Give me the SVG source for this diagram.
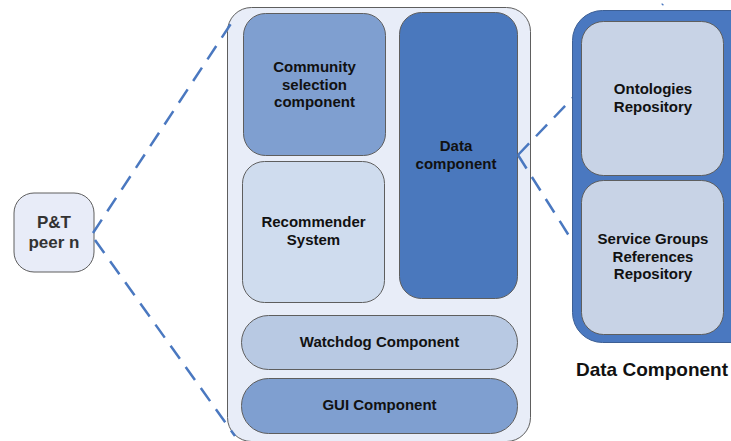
<svg xmlns="http://www.w3.org/2000/svg" width="731" height="441" viewBox="0 0 731 441">
<style>
text{font-family:"Liberation Sans",Arial,sans-serif;font-weight:bold;fill:#111;text-anchor:middle}
.n{stroke:#5e5e5e;stroke-width:1}
.t15{font-size:15px}
.conn{fill:none;stroke:#4a78c0;stroke-width:2.5;stroke-dasharray:16 10}
</style>
<rect width="731" height="441" fill="#ffffff"/>
<g id="peer">
<rect class="n" x="14" y="193" width="80" height="79" rx="20" fill="#e8ecf8"/>
<text x="54" y="228" style="font-size:17px;fill:#333">P&amp;T</text>
<text x="54" y="248" style="font-size:17px;fill:#333">peer n</text>
</g>
<g id="container">
<rect class="n" x="227.5" y="7.5" width="303" height="434" rx="24" fill="#e8edf8"/>
</g>
<g id="community">
<rect class="n" x="243.5" y="13.5" width="142" height="142" rx="22" fill="#7f9fd0"/>
<text class="t15" x="314.5" y="72">Community</text>
<text class="t15" x="314.5" y="90">selection</text>
<text class="t15" x="314.5" y="107">component</text>
</g>
<g id="data">
<rect class="n" x="399.5" y="12.5" width="118" height="286" rx="22" fill="#4a78bd"/>
<text class="t15" x="456" y="151">Data</text>
<text class="t15" x="456" y="169">component</text>
</g>
<g id="recommender">
<rect class="n" x="242.5" y="161.5" width="142" height="141" rx="22" fill="#cfdcee"/>
<text class="t15" x="313.5" y="227">Recommender</text>
<text class="t15" x="313.5" y="245">System</text>
</g>
<g id="watchdog">
<rect class="n" x="241.5" y="315.5" width="276" height="54" rx="27" fill="#b8c9e3"/>
<text class="t15" x="379.5" y="347">Watchdog Component</text>
</g>
<g id="gui">
<rect class="n" x="241.5" y="378.5" width="276" height="55" rx="27" fill="#7f9fd0"/>
<text class="t15" x="379.5" y="410">GUI Component</text>
</g>
<g id="connectors">
<line class="conn" x1="93" y1="233" x2="236" y2="16"/>
<line class="conn" x1="95" y1="240" x2="235" y2="436"/>
<line class="conn" x1="518" y1="155" x2="663" y2="4"/>
<line class="conn" x1="518" y1="155" x2="578" y2="250"/>
</g>
<g id="dataComponent">
<rect x="572.5" y="10.5" width="190" height="332" rx="30" fill="#4a78c0" stroke="#3d5f94" stroke-width="1"/>
<text x="652" y="376" style="font-size:19px">Data Component</text>
</g>
<g id="ontologies">
<rect class="n" x="581.5" y="21.5" width="142" height="154" rx="22" fill="#c8d3e6"/>
<text class="t15" x="653" y="94">Ontologies</text>
<text class="t15" x="653" y="112">Repository</text>
</g>
<g id="serviceGroups">
<rect class="n" x="581.5" y="180.5" width="142" height="154" rx="22" fill="#c8d3e6"/>
<text class="t15" x="653" y="244">Service Groups</text>
<text class="t15" x="653" y="262">References</text>
<text class="t15" x="653" y="279">Repository</text>
</g>
</svg>
